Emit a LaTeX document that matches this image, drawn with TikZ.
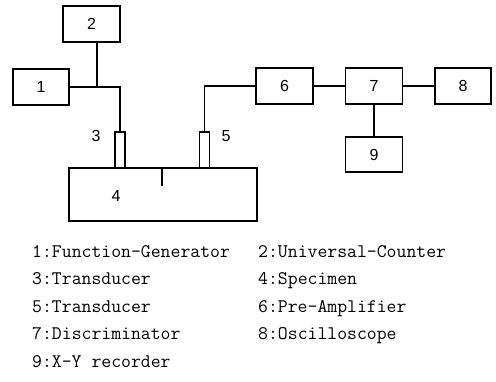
\documentclass[tikz,border=0pt]{standalone}
\usepackage{fontspec}
\setmainfont{Liberation Sans}
\setmonofont{Latin Modern Mono}
\usetikzlibrary{positioning, calc}
\tikzset{
  unitbox/.style={draw, line width=1.6pt, minimum width=57pt, minimum height=36pt, inner sep=0pt, font=\fontsize{16}{16}\selectfont},
  probe/.style={draw, line width=1.4pt, minimum width=10pt, minimum height=36pt, inner sep=0pt},
  specbox/.style={draw, line width=1.6pt, minimum width=188pt, minimum height=53pt, inner sep=0pt},
  numlabel/.style={font=\fontsize{16}{16}\selectfont, inner sep=0pt},
  legtext/.style={anchor=base west, font=\ttfamily\fontsize{19.2}{20}\selectfont, inner sep=0pt},
  wire/.style={line width=1.6pt},
}
\begin{document}
\begin{tikzpicture}[x=1pt, y=-1pt]
  \useasboundingbox (0,0) rectangle (496,381);
  % instruments
  \node[unitbox] (b2) at (91.5,24) {2};
  \node[unitbox, minimum width=56pt] (b1) at (41,87) {1};
  \node[unitbox] (b6) at (284.5,86) {6};
  \node[unitbox] (b7) at (374,86) {7};
  \node[unitbox, minimum width=56pt] (b8) at (463,86) {8};
  \node[unitbox, minimum height=35pt] (b9) at (374,154.5) {9};
  % specimen and transducers
  \node[specbox] (spec) at (163,194.5) {};
  \node[probe] (t3) at (120,150) {};
  \node[probe] (t5) at (204.5,150) {};
  \node[numlabel] (l3) at (96,136) {3};
  \node[numlabel] (l5) at (226,136) {5};
  \node[numlabel] (l4) at (116,196) {4};
  \coordinate (notch) at (162,186);
  \coordinate (j) at (97,88);
  \draw[wire] (spec.north -| notch) -- (notch);
  % wiring
  \draw[wire] (b2.south -| j) -- (j);
  \draw[wire] (b1.east) -- (b1.east -| t3) -- (t3.north);
  \draw[wire] (t5.north) |- (b6.west);
  \foreach \i/\j in {b6/b7,b7/b8,b7/b9} \draw[wire] (\i)--(\j);
  % legend
  \node[legtext] (k1) at (32,257) {1:Function-Generator};
  \node[legtext] (k2) at (258,257) {2:Universal-Counter};
  \node[legtext] (k3) at (32,284.5) {3:Transducer};
  \node[legtext] (k4) at (258,284.5) {4:Specimen};
  \node[legtext] (k5) at (32,312) {5:Transducer};
  \node[legtext] (k6) at (258,312) {6:Pre-Amplifier};
  \node[legtext] (k7) at (32,339.5) {7:Discriminator};
  \node[legtext] (k8) at (258,339.5) {8:Oscilloscope};
  \node[legtext] (k9) at (32,367) {9:X-Y recorder};
\end{tikzpicture}
\end{document}
